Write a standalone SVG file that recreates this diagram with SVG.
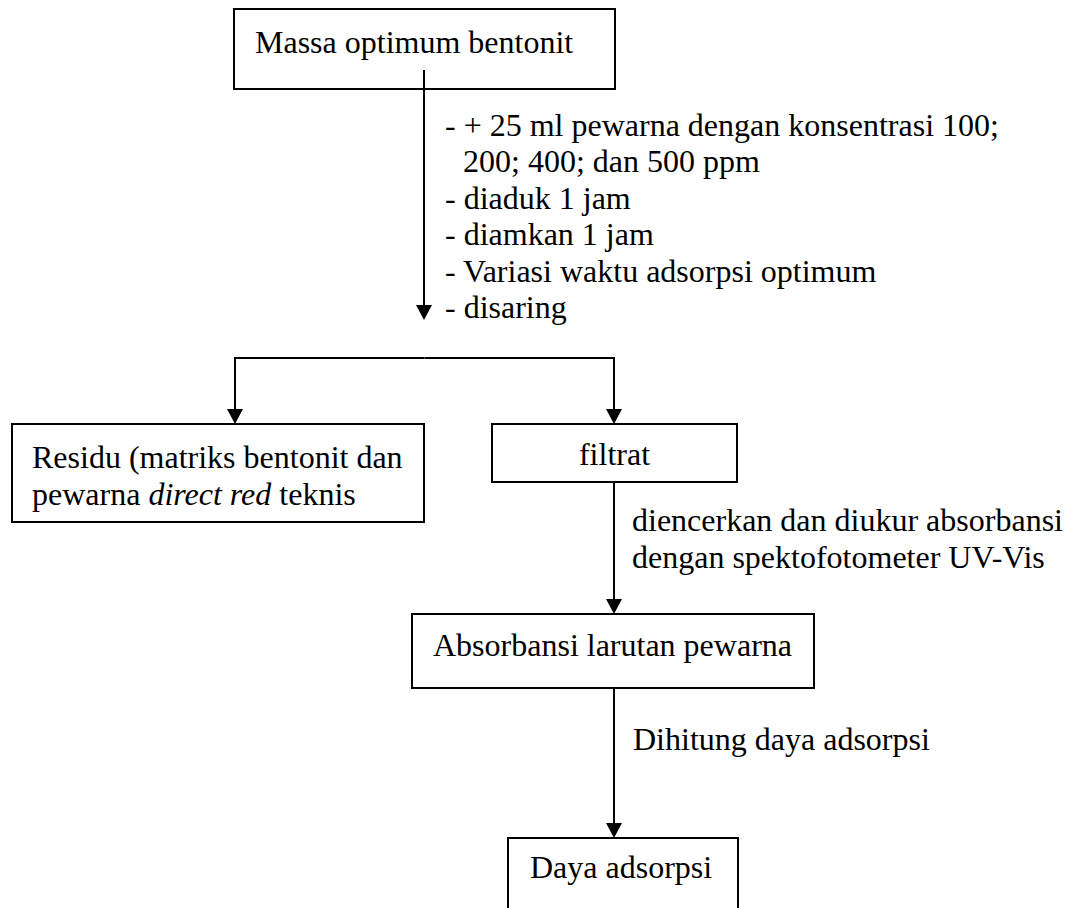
<svg xmlns="http://www.w3.org/2000/svg" width="1074" height="908" viewBox="0 0 1074 908">
<style>
  .box { fill: #ffffff; stroke: #000000; stroke-width: 2; }
  .t { font-family: "Liberation Serif", "Times New Roman", serif; font-size: 32px; fill: #000000; }
  .c { text-anchor: middle; }
  .conn { fill: none; stroke: #000000; stroke-width: 2; }
</style>
<defs>
  <marker id="arrow" markerUnits="userSpaceOnUse" markerWidth="16" markerHeight="16" refX="0" refY="8" orient="auto">
    <path d="M0,0 L15,8 L0,16 Z" fill="#000000"/>
  </marker>
</defs>
<rect width="1074" height="908" fill="#ffffff"/>

<g id="node-massa">
  <rect class="box" x="234" y="9" width="381" height="80"/>
  <text class="t" x="255" y="53">Massa optimum bentonit</text>
</g>

<g id="node-residu">
  <rect class="box" x="12" y="424" width="412" height="98"/>
  <text class="t" x="32" y="468">Residu (matriks bentonit dan</text>
  <text class="t" x="32" y="505">pewarna <tspan font-style="italic">direct red</tspan> teknis</text>
</g>

<g id="node-filtrat">
  <rect class="box" x="492" y="424" width="245" height="58"/>
  <text class="t c" x="614.5" y="465">filtrat</text>
</g>

<g id="node-absorbansi">
  <rect class="box" x="412" y="614" width="402" height="74"/>
  <text class="t" x="433" y="656">Absorbansi larutan pewarna</text>
</g>

<g id="node-daya">
  <rect class="box" x="508" y="838" width="230" height="100"/>
  <text class="t" x="530" y="878">Daya adsorpsi</text>
</g>

<g id="connectors">
  <path class="conn" d="M424,70 V305" marker-end="url(#arrow)"/>
  <path class="conn" d="M424.5,358 H235 V409" marker-end="url(#arrow)"/>
  <path class="conn" d="M424.5,358 H614 V409" marker-end="url(#arrow)"/>
  <path class="conn" d="M614,482 V599" marker-end="url(#arrow)"/>
  <path class="conn" d="M614,688 V823" marker-end="url(#arrow)"/>
</g>

<g id="labels">
  <text class="t" x="445" y="135.5">- + 25 ml pewarna dengan konsentrasi 100;</text>
  <text class="t" x="463" y="172">200; 400; dan 500 ppm</text>
  <text class="t" x="445" y="208.5">- diaduk 1 jam</text>
  <text class="t" x="445" y="245">- diamkan 1 jam</text>
  <text class="t" x="445" y="281.5">- Variasi waktu adsorpsi optimum</text>
  <text class="t" x="445" y="318">- disaring</text>
  <text class="t" x="632" y="531">diencerkan dan diukur absorbansi</text>
  <text class="t" x="632" y="568">dengan spektofotometer UV-Vis</text>
  <text class="t" x="633" y="750">Dihitung daya adsorpsi</text>
</g>
</svg>
